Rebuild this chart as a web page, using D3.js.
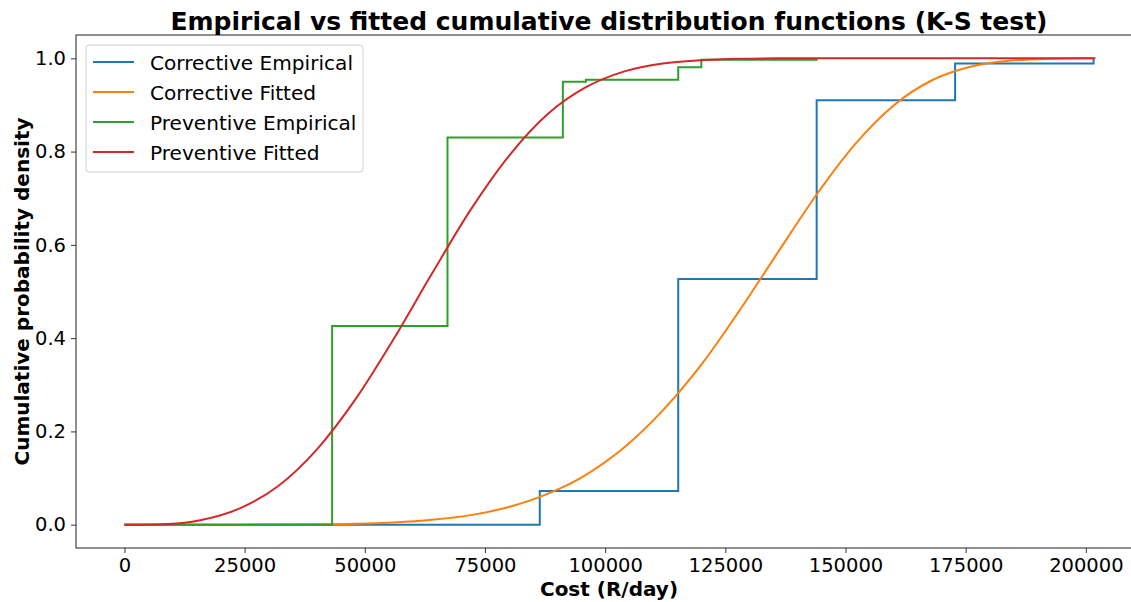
<!DOCTYPE html>
<html>
<head>
<meta charset="utf-8">
<script src="https://cdn.jsdelivr.net/npm/d3@7"></script>
<style>
  body { margin: 0; background: #fff; }
  text { font-family: "DejaVu Sans", sans-serif; fill: #000; }
</style>
</head>
<body>
<script>
// empirical CDFs (step points)
const corrEmpX = [0, 86400, 115200, 144000, 172800, 201600];
const corrEmpY = [0, 0.072, 0.527, 0.910, 0.989, 1.0];
const prevEmpX = [0, 43200, 67200, 91200, 96000, 115200, 120000, 144000];
const prevEmpY = [0, 0.426, 0.830, 0.950, 0.954, 0.981, 0.997, 1.0];

// fitted CDFs, every 8000
const corrFitX = [0, 24000, 40000, 48000, 56000, 64000, 72000, 80000, 88000, 96000, 104000, 112000, 120000,
  128000, 136000, 144000, 152000, 160000, 168000, 176000, 184000, 192000, 201600];
const corrFitY = [0, 0.0001, 0.0007, 0.0019, 0.0047, 0.0104, 0.0205, 0.038, 0.066, 0.107, 0.166, 0.245, 0.343,
  0.460, 0.585, 0.708, 0.816, 0.899, 0.953, 0.982, 0.9946, 0.9988, 1.0];
const prevFitX = [0, 8000, 16000, 24000, 32000, 40000, 48000, 56000, 64000, 72000, 80000, 88000, 96000,
  104000, 112000, 120000, 128000, 136000, 150000, 202000];
const prevFitY = [0, 0.001, 0.010, 0.035, 0.083, 0.161, 0.268, 0.398, 0.539, 0.675, 0.791, 0.880, 0.938,
  0.972, 0.989, 0.996, 0.999, 1.0, 1.0, 1.0];

const xTicks = [0, 25000, 50000, 75000, 100000, 125000, 150000, 175000, 200000];
const yTicks = [0, 0.2, 0.4, 0.6, 0.8, 1.0];

const series = [
  { name: 'Corrective Empirical', xs: corrEmpX, ys: corrEmpY, color: '#1f77b4', step: true },
  { name: 'Corrective Fitted', xs: corrFitX, ys: corrFitY, color: '#ff7f0e', step: false },
  { name: 'Preventive Empirical', xs: prevEmpX, ys: prevEmpY, color: '#2ca02c', step: true },
  { name: 'Preventive Fitted', xs: prevFitX, ys: prevFitY, color: '#d62728', step: false }
];

const width = 1131, height = 602;
const margin = { top: 35, right: -11, bottom: 54, left: 76 };

const svg = d3.select('body').append('svg')
  .attr('width', width)
  .attr('height', height);

const x = d3.scaleLinear()
  .domain([-10080, 211680])
  .range([margin.left, width - margin.right]);

const y = d3.scaleLinear()
  .domain([-0.05, 1.05])
  .range([height - margin.bottom, margin.top]);

const fs = 19.5;

// lines
series.forEach(s => {
  let pts = s.xs.map((v, i) => [v, s.ys[i]]);
  let line = d3.line()
    .x(d => x(d[0]))
    .y(d => y(d[1]))
    .curve(s.step ? d3.curveStepAfter : d3.curveMonotoneX);
  svg.append('path')
    .datum(pts)
    .attr('d', line)
    .attr('fill', 'none')
    .attr('stroke', s.color)
    .attr('stroke-width', 2)
    .attr('stroke-linejoin', 'miter');
});

// axes
const xAxis = d3.axisBottom(x)
  .tickValues(xTicks)
  .tickSize(5)
  .tickPadding(5)
  .tickFormat(d3.format('d'));

const yAxis = d3.axisLeft(y)
  .tickValues(yTicks)
  .tickSize(5)
  .tickPadding(5)
  .tickFormat(d3.format('.1f'));

const gx = svg.append('g')
  .attr('transform', `translate(0, ${height - margin.bottom})`)
  .call(xAxis);
const gy = svg.append('g')
  .attr('transform', `translate(${margin.left}, 0)`)
  .call(yAxis);

[gx, gy].forEach(g => {
  g.select('.domain').remove();
  g.selectAll('.tick line').attr('stroke', '#333').attr('stroke-width', 1);
  g.selectAll('.tick text')
    .style('font-family', '"DejaVu Sans", sans-serif')
    .style('font-size', fs + 'px')
    .attr('fill', '#000');
});

// frame
svg.append('rect')
  .attr('x', x.range()[0])
  .attr('y', y.range()[1])
  .attr('width', x.range()[1] - x.range()[0])
  .attr('height', y.range()[0] - y.range()[1])
  .attr('fill', 'none')
  .attr('stroke', '#333')
  .attr('stroke-width', 1.1);

// titles
svg.append('text')
  .attr('x', (x.range()[0] + x.range()[1]) / 2)
  .attr('y', 30)
  .attr('text-anchor', 'middle')
  .style('font-size', '25px')
  .style('font-weight', 'bold')
  .text('Empirical vs fitted cumulative distribution functions (K-S test)');

svg.append('text')
  .attr('x', (x.range()[0] + x.range()[1]) / 2)
  .attr('y', 595.5)
  .attr('text-anchor', 'middle')
  .style('font-size', '20px')
  .style('font-weight', 'bold')
  .text('Cost (R/day)');

svg.append('text')
  .attr('transform', `translate(28.5, ${(y.range()[0] + y.range()[1]) / 2}) rotate(-90)`)
  .attr('text-anchor', 'middle')
  .style('font-size', '20px')
  .style('font-weight', 'bold')
  .text('Cumulative probability density');

// legend
const legend = svg.append('g').attr('transform', 'translate(86, 45)');
legend.append('rect')
  .attr('width', 277)
  .attr('height', 127)
  .attr('rx', 3)
  .attr('fill', '#fff')
  .attr('fill-opacity', 0.8)
  .attr('stroke', '#d0d0d0')
  .attr('stroke-width', 1);

series.forEach((s, i) => {
  let cy = 17 + i * 30;
  legend.append('line')
    .attr('x1', 7).attr('x2', 48)
    .attr('y1', cy).attr('y2', cy)
    .attr('stroke', s.color)
    .attr('stroke-width', 2);
  legend.append('text')
    .attr('x', 64)
    .attr('y', cy + 7.5)
    .style('font-size', '20.1px')
    .text(s.name);
});
</script>
</body>
</html>
